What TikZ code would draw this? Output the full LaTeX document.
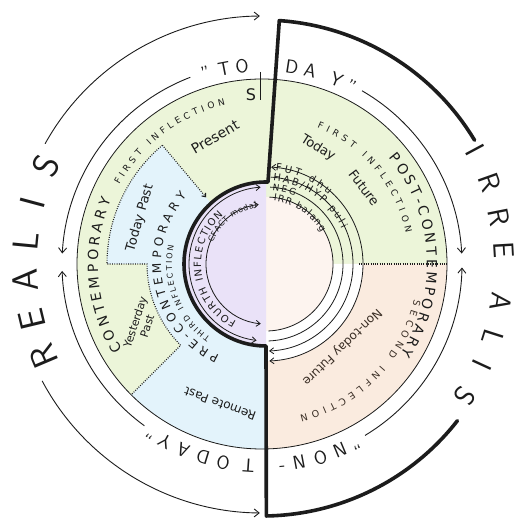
\documentclass[tikz,border=0pt]{standalone}
\usepackage{fontspec}
\newfontfamily\dv{DejaVu Sans}
\usetikzlibrary{decorations.text,arrows.meta,calc}
\definecolor{cgreen}{HTML}{ECF5D9}
\definecolor{cblue}{HTML}{E3F3FB}
\definecolor{cpeach}{HTML}{FAEBDF}
\definecolor{cpurple}{HTML}{EAE2F8}
\definecolor{cpink}{HTML}{FDF4EF}
\definecolor{ink}{HTML}{1C1C1C}
\definecolor{brownink}{HTML}{3A2E25}
\tikzset{
  thinarc/.style={ink, line width=0.9pt, -{Straight Barb[length=5pt,width=8pt]}},
  bracket/.style={ink, line width=3.6pt, line join=round, line cap=round},
  dotline/.style={ink, line width=1.1pt, dash pattern=on 0.9pt off 1.4pt},
  inarc/.style={ink, line width=0.8pt},
  tipboth/.style={{Straight Barb[length=4pt,width=6pt]}-{Straight Barb[length=4pt,width=6pt]}},
  tipend/.style={-{Straight Barb[length=4pt,width=6pt]}},
  bigletter/.style={font=\sffamily\fontsize{36}{36}\selectfont, ink, inner sep=0pt},
  irrletter/.style={font=\sffamily\fontsize{29}{29}\selectfont, ink, inner sep=0pt},
  midletter/.style={font=\sffamily\fontsize{19}{19}\selectfont, ink, inner sep=0pt},
  hand/.style={font=\dv\fontsize{13}{15}\selectfont, ink, inner sep=0pt},
  arctext/.style={decorate, decoration={text along path, text align=fit to path, text color=ink, #1}},
}
\begin{document}
\begin{tikzpicture}[x=1pt,y=1pt]
\useasboundingbox (0,0) rectangle (520,526);
\fill[white] (0,0) rectangle (520,526);
\coordinate (C) at (262,262);
\coordinate (Ci) at (266,262);
\coordinate (Cb) at (262,258);

% ---------- coloured disk ----------
\fill[cgreen] (C) circle[radius=185];
\fill[cpeach] (Ci) -- ($(C)+(0:185)$) arc[start angle=0,end angle=-88.8,radius=185] -- cycle;
\fill[cblue] ($(C)+(130:84)$) -- ($(C)+(130:155)$) arc[start angle=130,end angle=180,radius=155]
  -- ($(C)+(180:115)$) arc[start angle=180,end angle=225,radius=115]
  -- ($(C)+(225:185)$) arc[start angle=225,end angle=271.2,radius=185] -- (Ci) -- cycle;
\fill[white] (Ci) -- ($(Ci)+(0:97)$) arc[start angle=0,end angle=-90,radius=97] -- cycle;
\fill[cpink] ($(Ci)+(90:67)$) arc[start angle=90,end angle=-90,radius=67] -- cycle;
\fill[cpurple] ($(Ci)+(90:82)$) arc[start angle=90,end angle=270,radius=82] -- cycle;
\draw[ink,line width=0.8pt] (C) circle[radius=185];

% ---------- dotted boundaries ----------
\draw[dotline,-{Straight Barb[length=3pt,width=5pt]}] ($(C)+(130:155)$) -- ($(C)+(130:87)$);
\draw[dotline] ($(C)+(130:155)$) arc[start angle=130,end angle=180,radius=155]
  -- ($(C)+(180:115)$) arc[start angle=180,end angle=225,radius=115] -- ($(C)+(225:185)$);
\draw[dotline] ($(C)+(0:97)$) -- ($(C)+(0:185)$);

% ---------- inner arcs (right) ----------
\draw[inarc] ($(Ci)+(87:67)$) arc[start angle=87,end angle=-88,radius=67];
\draw[inarc] ($(Ci)+(87:77)$) arc[start angle=87,end angle=-88,radius=77];
\draw[inarc,tipend] ($(Ci)+(87:87)$) arc[start angle=87,end angle=-88,radius=87];
\draw[inarc,tipboth] ($(Ci)+(87:97)$) arc[start angle=87,end angle=-88,radius=97];
% ---------- inner arcs (left) ----------
\draw[inarc,tipboth] ($(Ci)+(263:77)$) arc[start angle=263,end angle=94,radius=77];
\draw[inarc,tipboth] ($(Ci)+(265:60)$) arc[start angle=265,end angle=97,radius=60];

% ---------- thick irrealis bracket ----------
\draw[bracket] ($(Cb)+(31:248)$) arc[start angle=31,end angle=86,radius=248] -- (268,344)
  -- ($(Ci)+(90:82)$) arc[start angle=90,end angle=270,radius=82]
  -- ($(Cb)+(-89:248)$) arc[start angle=-89,end angle=-38,radius=248];

% ---------- thin arcs ----------
\draw[thinarc] ($(C)+(111:200)$) arc[start angle=111,end angle=177,radius=200];
\draw[thinarc] ($(C)+(234:200)$) arc[start angle=234,end angle=182,radius=200];
\draw[thinarc] ($(C)+(60:200)$) arc[start angle=60,end angle=3,radius=200];
\draw[thinarc] ($(C)+(-59:200)$) arc[start angle=-59,end angle=-1,radius=200];
\draw[thinarc] ($(C)+(151:248)$) arc[start angle=151,end angle=90.5,radius=248];
\draw[thinarc] ($(C)+(208:249)$) arc[start angle=208,end angle=269.5,radius=249];

% ---------- outer words ----------
\foreach \a/\l [count=\i] in {203/R,193.5/E,184/A,174.5/L,165/I,155.5/S}
  \node[bigletter, rotate=\a-90] (realis\i) at ($(C)+(\a:237)$) {\l};
\foreach \a/\l [count=\i] in {28.2/I,19.6/R,11.2/R,3.3/E,-9.1/A,-17.7/L,-24.7/I,-33.2/S}
  \node[irrletter, rotate=\a-90] (irrealis\i) at ($(C)+(\a:242)$) {\l};
\foreach \a/\l [count=\i] in {106.5/",101/T,95.8/O,81.3/D,76/A,68/Y,63.4/"}
  \node[midletter, rotate=\a-90] (today\i) at ($(C)+(\a:199)$) {\l};
\foreach \a/\l [count=\i] in {-62.6/",-67.3/N,-73.2/O,-79.4/N,-84.5/-,266.1/T,258.9/O,253/D,247/A,241.3/Y,236.8/"}
  \node[midletter, rotate=\a-90] (nontoday\i) at ($(C)+(\a:202)$) {\l};

% ---------- arc texts in the disk ----------
\path[arctext={text={|\dv\fontsize{14}{14}\selectfont|CONTEMPORARY}}]
  ($(C)+(211.5:164)$) arc[start angle=211.5,end angle=157,radius=164];
\path[arctext={text={|\dv\fontsize{9}{9}\selectfont|FIRST INFLECTION}}]
  ($(C)+(151:163)$) arc[start angle=151,end angle=103,radius=163];
\path[arctext={text={|\dv\fontsize{14}{14}\selectfont|POST-CONTEMPORARY}}]
  ($(C)+(40:165)$) arc[start angle=40,end angle=-33,radius=165];
\path[arctext={text={|\dv\fontsize{9}{9}\selectfont|FIRST INFLECTION}}]
  ($(C)+(68:147)$) arc[start angle=68,end angle=12,radius=147];
\path[arctext={text={|\dv\fontsize{9.5}{9.5}\selectfont|SECOND INFLECTION}, text color=brownink}]
  ($(C)+(-13:156)$) arc[start angle=-13,end angle=-76,radius=156];
\path[arctext={text={|\dv\fontsize{12}{12}\selectfont|PRE-CONTEMPORARY}}]
  ($(C)+(245:101)$) arc[start angle=245,end angle=138,radius=101];
\path[arctext={text={|\dv\fontsize{8}{8}\selectfont|THIRD INFLECTION}}]
  ($(C)+(235:90)$) arc[start angle=235,end angle=168,radius=90];
\path[arctext={text={|\dv\fontsize{10}{10}\selectfont|FOURTH INFLECTION}}]
  ($(Ci)+(243:65)$) arc[start angle=243,end angle=131,radius=65];
\path[arctext={text={|\dv\fontsize{8}{8}\selectfont|CFACT modal}, raise=-2.8pt}]
  ($(Ci)+(158:60)$) arc[start angle=158,end angle=99,radius=60];
% irrealis labels
\path[arctext={text={|\dv\fontsize{10}{10}\selectfont|FUT dhu}, raise=-3.5pt}]
  ($(Ci)+(84:97)$) arc[start angle=84,end angle=48,radius=97];
\path[arctext={text={|\dv\fontsize{10}{10}\selectfont|HAB/HYP puli}, raise=-3.5pt}]
  ($(Ci)+(85:87)$) arc[start angle=85,end angle=25,radius=87];
\path[arctext={text={|\dv\fontsize{9}{9}\selectfont|NEG}, raise=-3.2pt}]
  ($(Ci)+(85:77)$) arc[start angle=85,end angle=67,radius=77];
\path[arctext={text={|\dv\fontsize{9.5}{9.5}\selectfont|IRR balang}, raise=-3.4pt}]
  ($(Ci)+(83:67)$) arc[start angle=83,end angle=30,radius=67];

% ---------- straight hand texts ----------
\node[hand, font=\dv\fontsize{14}{16}\selectfont, rotate=30] (present) at (215,389) {Present};
\node[hand, rotate=74] (todaypast) at (140,308) {Today Past};
\node[hand, font=\dv\fontsize{11}{12.5}\selectfont, rotate=72, align=center] (yesterday) at (141,202) {Yesterday\\Past};
\node[hand, rotate=-32] (today) at (318,378) {Today};
\node[hand, rotate=-53] (future) at (364,338) {Future};
\node[hand, font=\dv\fontsize{12}{13}\selectfont, rotate=160] (remote) at (220,122) {Remote Past};
\node[hand, font=\dv\fontsize{12}{14}\selectfont, rotate=-136, text=brownink] (nontodayfut) at (342,179) {Non-today Future};

% ---------- S mark ----------
\node[hand, font=\dv\fontsize{16}{16}\selectfont] (smark) at (251,431) {S};
\coordinate (stop) at (260,454);
\coordinate (sbot) at (260,426);
\draw[ink,line width=0.8pt] (stop) -- (sbot);
\end{tikzpicture}
\end{document}
